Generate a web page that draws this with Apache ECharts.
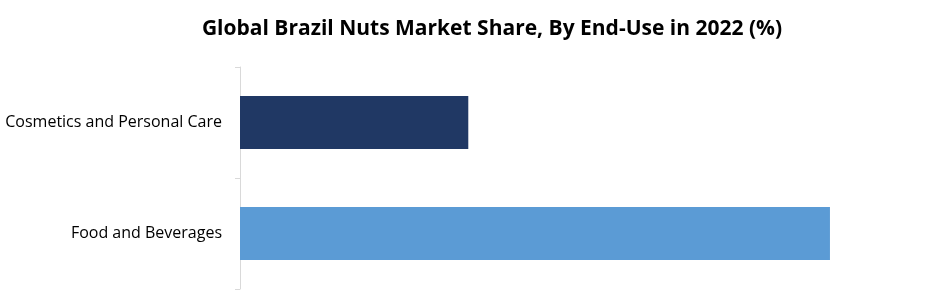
<!DOCTYPE html>
<html>
<head>
<meta charset="utf-8">
<script src="https://cdn.jsdelivr.net/npm/echarts@6/dist/echarts.min.js"></script>
<style>html,body{margin:0;padding:0;background:#fff;}#c{width:941px;height:297px;}</style>
</head>
<body>
<div id="c"></div>
<script>
const categories = ['Food and Beverages', 'Cosmetics and Personal Care'];
const values = [72.1, 27.9];
const barColors = ['#5b9bd5', '#203864'];

const chart = echarts.init(document.getElementById('c'), null, {renderer: 'canvas'});
chart.setOption({
  animation: false,
  title: {
    text: 'Global Brazil Nuts Market Share, By End-Use in 2022 (%)',
    left: 487, textAlign: 'center', top: 14,
    textStyle: {fontFamily: 'Open Sans', fontWeight: 'bold', fontSize: 21, color: '#000'}
  },
  grid: {left: 240, right: 46.4, top: 67, bottom: 8, containLabel: false},
  xAxis: {type: 'value', min: 0, max: 80, show: false},
  yAxis: {
    type: 'category', data: categories,
    axisLine: {show: true, lineStyle: {color: '#d9d9d9', width: 1}},
    axisTick: {show: true, length: 5, lineStyle: {color: '#d9d9d9'}},
    axisLabel: {margin: 18, fontFamily: 'Open Sans', fontSize: 16, color: '#000'}
  },
  series: [{
    type: 'bar', barWidth: 53,
    data: values.map((v, i) => ({value: v, itemStyle: {color: barColors[i]}}))
  }]
});
</script>
</body>
</html>
